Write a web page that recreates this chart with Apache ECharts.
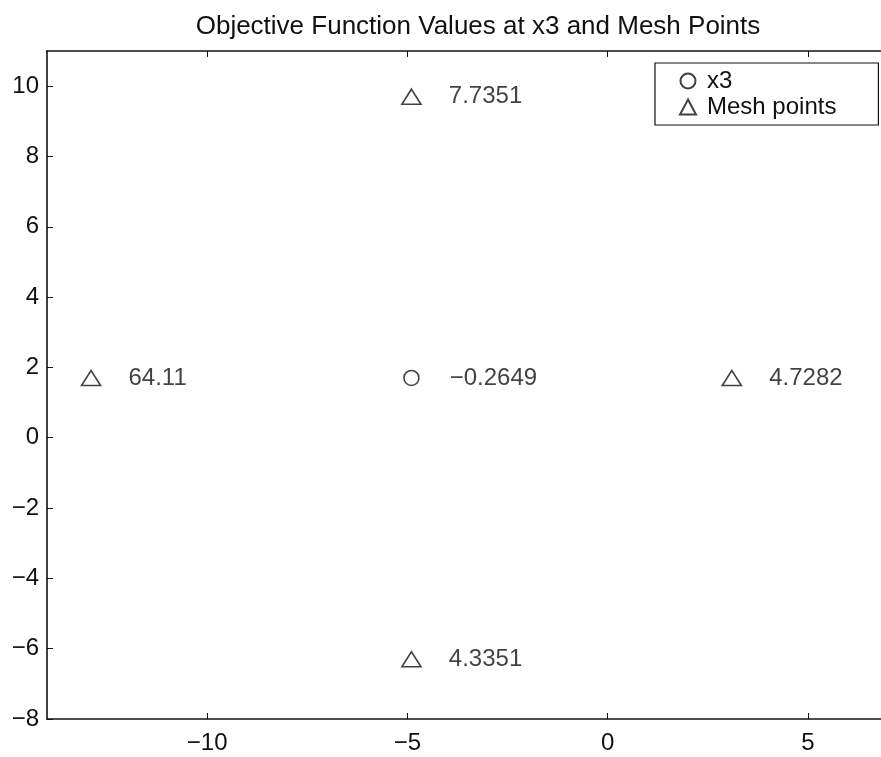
<!DOCTYPE html>
<html>
<head>
<meta charset="utf-8">
<title>Objective Function Values at x3 and Mesh Points</title>
<script src="https://cdn.jsdelivr.net/npm/echarts@6/dist/echarts.min.js"></script>
<style>
  html, body { margin: 0; padding: 0; background: #ffffff; }
  #chart { width: 881px; height: 757px; }
</style>
</head>
<body>
<div id="chart"></div>
<script>
// Current iterate and its objective value
const x3Point = [-4.9, 1.7];
const x3Value = -0.2649;

// Polled mesh points (mesh size 8) and their objective values
const meshX = [3.1, -4.9, -12.9, -4.9];
const meshY = [1.7, 9.7, 1.7, -6.3];
const meshValues = [4.7282, 7.7351, 64.11, 4.3351];

// Axis ticks
const xTicks = [-10, -5, 0, 5];
const yMin = -8, yMax = 11, yStep = 2;
const xMin = -14, xMax = 7;

const INK = '#111111';
const FONT = '"Liberation Sans", Arial, Helvetica, sans-serif';
const minus = v => String(v).replace('-', '\u2212');

const labelStyle = {
  show: true,
  position: 'right',
  distance: 27,
  color: INK,
  fontFamily: FONT,
  fontSize: 24,
  formatter: p => minus(p.value[2])
};

const chart = echarts.init(document.getElementById('chart'), null, { renderer: 'canvas' });

chart.setOption({
  backgroundColor: '#ffffff',
  animation: false,
  title: {
    text: 'Objective Function Values at x3 and Mesh Points',
    left: 473,
    textAlign: 'center',
    top: 9,
    textStyle: { color: INK, fontFamily: FONT, fontSize: 26, fontWeight: 'normal' }
  },
  legend: {
    orient: 'vertical',
    left: 655,
    top: 63,
    padding: [6, 42, 6, 24],
    itemGap: 2,
    itemWidth: 16,
    itemHeight: 15,
    borderColor: INK,
    borderWidth: 1.2,
    backgroundColor: '#ffffff',
    textStyle: { color: INK, fontFamily: FONT, fontSize: 24, padding: [0, 0, 0, 6] },
    data: ['x3', 'Mesh points']
  },
  // the plot box runs 7 px past the right edge of the canvas
  grid: { left: 47, top: 51, bottom: 38, width: 841, outerBoundsMode: 'none' },
  xAxis: [
    {
      type: 'value', position: 'bottom', min: xMin, max: xMax,
      splitLine: { show: false },
      axisLine: { show: true, onZero: false, lineStyle: { color: INK, width: 1.6 } },
      axisTick: { show: true, inside: true, length: 6, customValues: xTicks, lineStyle: { color: INK } },
      axisLabel: {
        customValues: xTicks, margin: 12, color: INK, fontFamily: FONT, fontSize: 24,
        formatter: minus
      }
    },
    {
      type: 'value', position: 'top', min: xMin, max: xMax,
      splitLine: { show: false },
      axisLine: { show: true, onZero: false, lineStyle: { color: INK, width: 1.6 } },
      axisTick: { show: true, inside: true, length: 6, customValues: xTicks, lineStyle: { color: INK } },
      axisLabel: { show: false }
    }
  ],
  yAxis: {
    type: 'value', min: yMin, max: yMax, interval: yStep,
    splitLine: { show: false },
    axisLine: { show: true, onZero: false, lineStyle: { color: INK, width: 1.6 } },
    axisTick: { show: true, inside: true, length: 6, lineStyle: { color: INK } },
    axisLabel: {
      margin: 8, color: INK, fontFamily: FONT, fontSize: 24,
      showMaxLabel: false,
      formatter: v => (v % yStep === 0 ? minus(v) : '')
    }
  },
  series: [
    {
      name: 'x3',
      type: 'scatter',
      xAxisIndex: 0,
      symbol: 'circle',
      symbolSize: 15,
      itemStyle: { color: 'rgba(255,255,255,0)', borderColor: INK, borderWidth: 1.6 },
      label: Object.assign({}, labelStyle, { distance: 30 }),
      data: [[x3Point[0], x3Point[1], x3Value]]
    },
    {
      name: 'Mesh points',
      type: 'scatter',
      xAxisIndex: 0,
      symbol: 'triangle',
      symbolSize: [19, 15],
      itemStyle: { color: 'rgba(255,255,255,0)', borderColor: INK, borderWidth: 1.6 },
      label: labelStyle,
      data: meshX.map((x, i) => [x, meshY[i], meshValues[i]])
    }
  ]
});
</script>
</body>
</html>
